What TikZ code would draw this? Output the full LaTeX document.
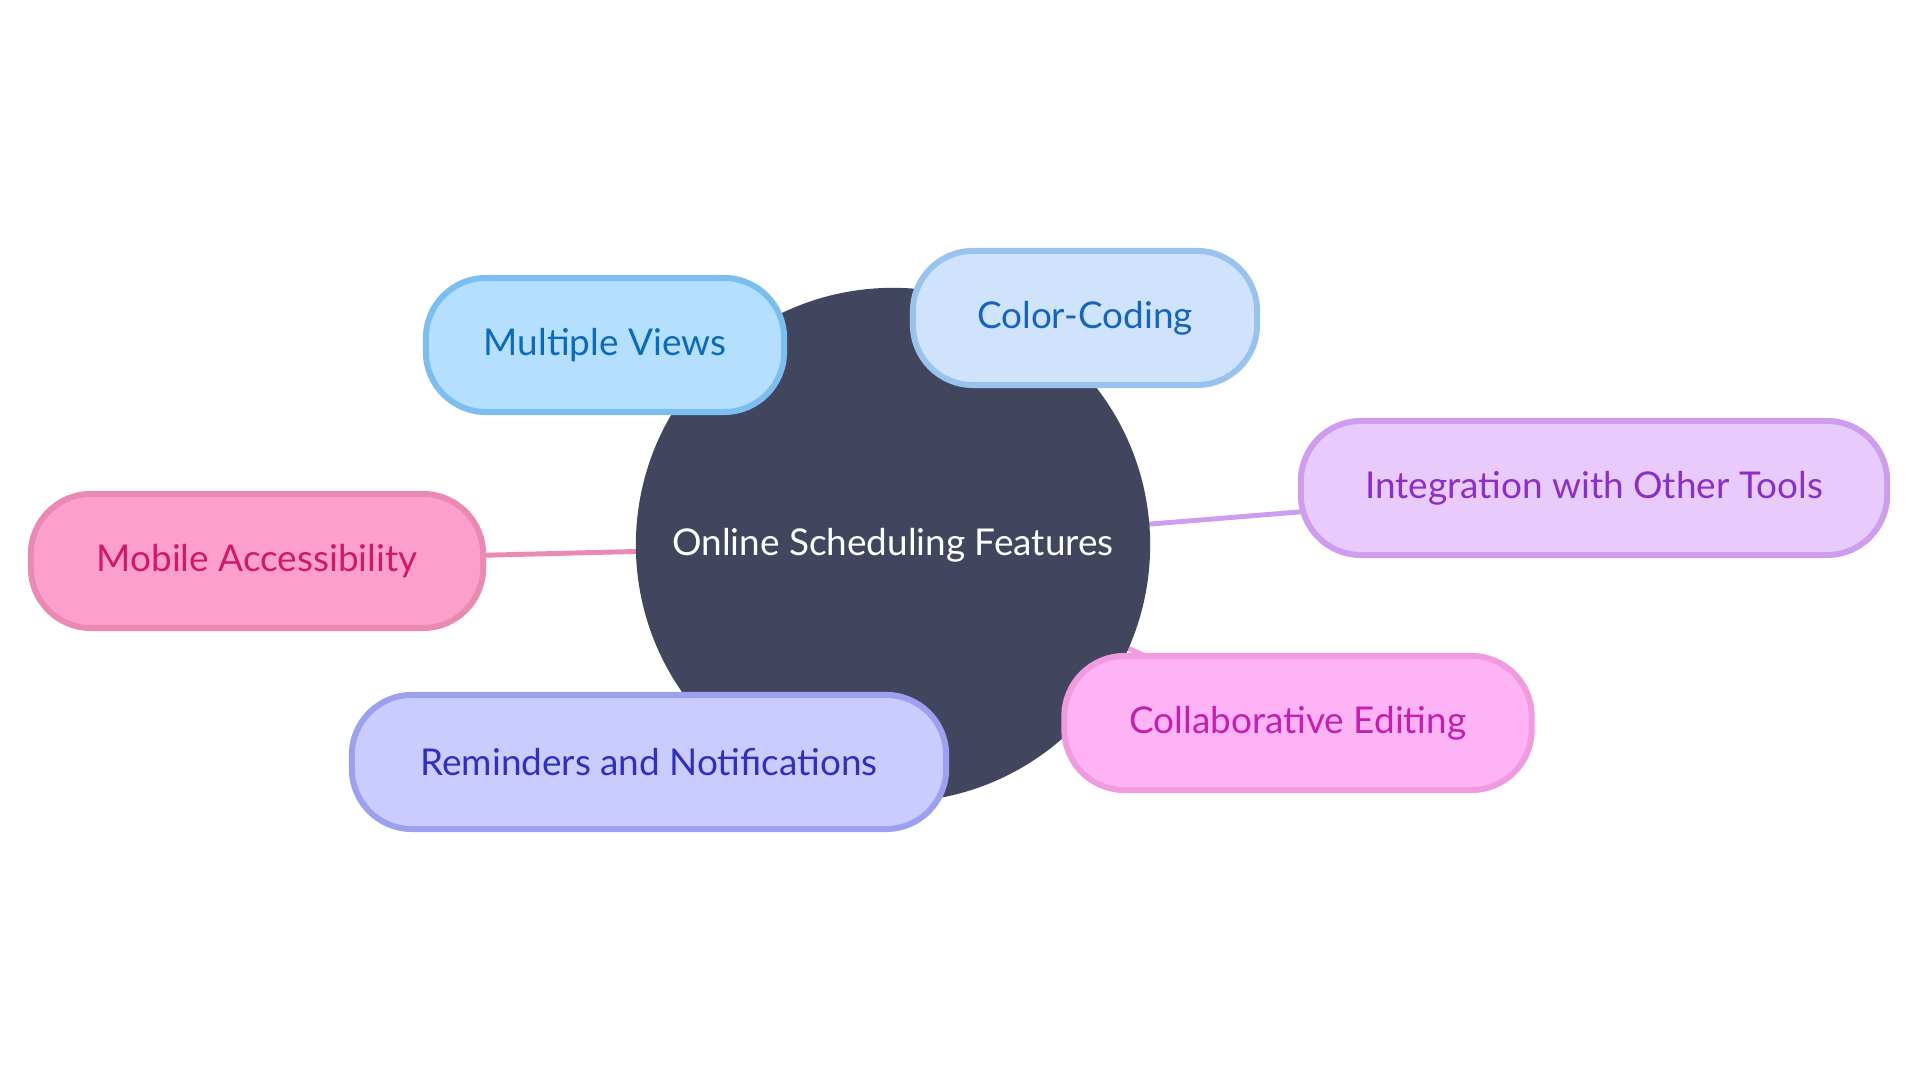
\documentclass[tikz,border=0pt]{standalone}
\usepackage{fontspec}
\setmainfont{Lato}
\usetikzlibrary{backgrounds}

\definecolor{hubfill}{HTML}{41465E}
\definecolor{viewsfill}{HTML}{B5DFFF}
\definecolor{viewsline}{HTML}{7DBEF0}
\definecolor{viewstext}{HTML}{0B6BB8}
\definecolor{colorfill}{HTML}{CFE3FC}
\definecolor{colorline}{HTML}{9AC2EE}
\definecolor{colortext}{HTML}{1565C0}
\definecolor{integfill}{HTML}{E8CBFC}
\definecolor{integline}{HTML}{CF9DEF}
\definecolor{integtext}{HTML}{8B2FC9}
\definecolor{mobilefill}{HTML}{FCA0CB}
\definecolor{mobileline}{HTML}{EB89B5}
\definecolor{mobiletext}{HTML}{D0186C}
\definecolor{remindfill}{HTML}{CACBFE}
\definecolor{remindline}{HTML}{9CA0EF}
\definecolor{remindtext}{HTML}{3030BE}
\definecolor{collabfill}{HTML}{FDB3F4}
\definecolor{collabline}{HTML}{F09ADF}
\definecolor{collabtext}{HTML}{C51FB0}

\begin{document}
\begin{tikzpicture}[
        x=0.01cm, y=-0.01cm,
        font=\fontsize{10.5pt}{12pt}\selectfont,
        hub/.style={circle, fill=hubfill, text=white, minimum size=5.14cm, inner sep=0pt},
        leaf/.style={rectangle, rounded corners=0.6cm, line width=1.7pt,
            draw=#1line, fill=#1fill, text=#1text, minimum height=1.34cm},
        branch/.style={line width=1.4pt, #1line}
    ]
        \useasboundingbox (0,0) rectangle (1920,1080);

        % centre
        \node[hub] (hub) at (893,545) {Online Scheduling Features};

        % features round the centre
        \node[leaf=views, minimum width=3.58cm] (views) at (605,345) {Multiple Views};
        \node[leaf=color, minimum width=3.44cm] (color) at (1085,318) {Color-Coding};
        \node[leaf=integ, minimum width=5.86cm] (integ) at (1594,488) {Integration with Other Tools};
        \node[leaf=mobile, minimum width=4.52cm] (mobile) at (257,561) {Mobile Accessibility};
        \node[leaf=remind, minimum width=5.94cm] (remind) at (649,762) {Reminders and Notifications};
        \node[leaf=collab, minimum width=4.67cm] (collab) at (1298,723) {Collaborative Editing};

        % branches behind everything
        \begin{scope}[on background layer]
            \foreach \leaf in {views,color,integ,mobile,remind,collab}
                \draw[branch=\leaf] (hub.center) -- (\leaf.center);
        \end{scope}
    \end{tikzpicture}
\end{document}
